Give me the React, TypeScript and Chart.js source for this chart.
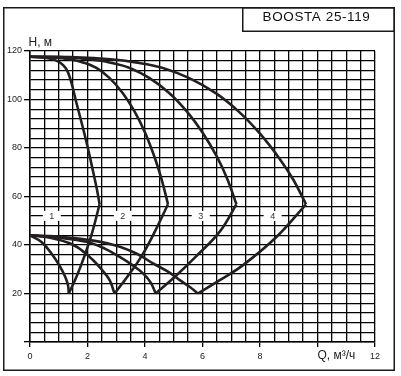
import React, { useEffect, useRef } from 'react';
import { Chart, registerables } from 'chart.js';

Chart.register(...registerables);

// ---- texts ----
const chartTitle = 'BOOSTA 25-119';
const yAxisTitle = 'H, м';
const xAxisTitle = 'Q, м³/ч';

// ---- tick labels ----
const xLabeledTicks = [0, 2, 4, 6, 8, 12];
const xMarkedTicks = [0, 2, 4, 6, 8, 10, 12];
const yLabeledTicks = [20, 40, 60, 80, 100, 120];
const yMarkedTicks = [0, 20, 40, 60, 80, 100, 120];

// ---- curve labels (pump count) ----
const pumpLabels = ['1', '2', '3', '4'];
const pumpLabelQ = [0.76, 3.23, 5.94, 8.44];
const pumpLabelH = [52, 52, 52, 52];

// ---- max-speed H-Q curves ----
const topQ1 = [0, 0.4, 0.8, 1.0, 1.15, 1.3, 1.45, 1.6, 1.8, 2.0, 2.2, 2.33, 2.42];
const topH1 = [117.6, 117.3, 116.5, 115.5, 114.2, 111.8, 106.5, 99.3, 90.2, 80.6, 70, 62.8, 56.8];
const topQ2 = [0, 0.8, 1.4, 1.84, 2.31, 2.77, 3.23, 3.64, 4.0, 4.34, 4.58, 4.8];
const topH2 = [117.6, 117.3, 116.5, 115.3, 113, 108.8, 102.6, 95, 86.4, 76, 67, 56.8];
const topQ3 = [0, 1.2, 2.1, 2.76, 3.47, 4.16, 4.85, 5.46, 6.0, 6.51, 6.87, 7.18];
const topH3 = [117.6, 117.4, 116.5, 115.3, 113, 108.8, 102.6, 95, 86.4, 76.2, 67, 56.8];
const topQ4 = [0, 1.6, 2.8, 3.68, 4.62, 5.54, 6.46, 7.28, 8.0, 8.68, 9.16, 9.6];
const topH4 = [117.6, 117.4, 116.6, 115.3, 113, 108.8, 102.6, 94.8, 85.9, 75.6, 66.9, 56.8];

// ---- min-speed H-Q curves ----
const lowQ1 = [0, 0.4, 0.79, 1.05, 1.22, 1.32, 1.35];
const lowH1 = [44, 41.2, 35.8, 31, 27, 23.5, 20];
const lowQ2 = [0, 0.7, 1.38, 1.8, 2.19, 2.5, 2.77, 2.94];
const lowH2 = [44, 43, 40.7, 37.8, 33.8, 29.8, 25.5, 20];
const lowQ3 = [0, 1.0, 1.96, 2.6, 3.12, 3.55, 3.93, 4.2, 4.37];
const lowH3 = [44, 43, 41.3, 38.5, 35.1, 31.8, 28.3, 24.5, 20];
const lowQ4 = [0, 1.2, 2.2, 3.12, 3.75, 4.28, 4.8, 5.21, 5.55, 5.84];
const lowH4 = [44, 43.2, 41.8, 39.3, 36.2, 32.4, 29, 25.5, 22.8, 20];

// ---- max-flow boundary lines ----
const edgeQ1 = [1.35, 1.62, 1.88, 2.16, 2.42];
const edgeH1 = [20, 27, 35, 45, 56.8];
const edgeQ2 = [2.94, 3.36, 3.86, 4.32, 4.8];
const edgeH2 = [20, 26.5, 35, 45, 56.8];
const edgeQ3 = [4.37, 5.05, 5.75, 6.6, 7.18];
const edgeH3 = [20, 27, 35, 45.5, 56.8];
const edgeQ4 = [5.84, 6.6, 7.41, 8.58, 9.6];
const edgeH4 = [20, 25.5, 31.7, 43.4, 56.8];

const curveSets: Array<[number[], number[]]> = [
  [topQ1, topH1], [topQ2, topH2], [topQ3, topH3], [topQ4, topH4],
  [lowQ1, lowH1], [lowQ2, lowH2], [lowQ3, lowH3], [lowQ4, lowH4],
  [edgeQ1, edgeH1], [edgeQ2, edgeH2], [edgeQ3, edgeH3], [edgeQ4, edgeH4],
];

const INK = '#231f20';
const FONT = '"Liberation Sans", Arial, sans-serif';

const decor = {
  id: 'decor',
  beforeDatasetsDraw(chart: any) {
    const { ctx, scales } = chart;
    const x = scales.x;
    const y = scales.y;
    ctx.save();
    ctx.font = `9px ${FONT}`;
    ctx.textAlign = 'center';
    ctx.textBaseline = 'middle';
    pumpLabels.forEach((t, i) => {
      const px = x.getPixelForValue(pumpLabelQ[i]);
      const py = y.getPixelForValue(pumpLabelH[i]);
      ctx.fillStyle = '#ffffff';
      ctx.fillRect(px - 9, py - 5, 18, 10);
      ctx.fillStyle = '#333333';
      ctx.fillText(t, px, py + 0.5);
    });
    ctx.restore();
  },
  afterDraw(chart: any) {
    const { ctx, scales } = chart;
    const x = scales.x;
    const y = scales.y;
    ctx.save();
    ctx.fillStyle = '#1a1a1a';
    ctx.font = `12px ${FONT}`;
    ctx.textAlign = 'left';
    ctx.textBaseline = 'alphabetic';
    ctx.fillText(yAxisTitle, x.left - 1.5, y.top - 5);
    ctx.fillText(xAxisTitle, x.getPixelForValue(10), y.bottom + 16.5);
    // frames
    ctx.strokeStyle = '#1a1a1a';
    ctx.lineWidth = 1.5;
    ctx.strokeRect(3.75, 7.75, 390.5, 362.5);
    ctx.strokeRect(242.75, 7.75, 151.5, 23.5);
    // title
    ctx.fillStyle = '#111111';
    ctx.font = `13.5px ${FONT}`;
    (ctx as any).letterSpacing = '0.6px';
    ctx.textAlign = 'center';
    ctx.fillText(chartTitle, 316.5, 20.5);
    ctx.restore();
  },
};

export default function App() {
  const ref = useRef<HTMLCanvasElement>(null);
  useEffect(() => {
    const datasets = curveSets.map(([qs, hs]) => ({
      data: qs.map((q, i) => ({ x: q, y: hs[i] })),
      showLine: true,
      borderColor: INK,
      backgroundColor: INK,
      borderWidth: 2.6,
      pointRadius: 0,
      pointHoverRadius: 0,
      tension: 0.4,
      fill: false,
    }));
    const chart = new Chart(ref.current as HTMLCanvasElement, {
      type: 'scatter',
      data: { datasets },
      options: {
        animation: false,
        responsive: false,
        devicePixelRatio: 1,
        events: [],
        layout: { padding: { left: 0, top: 51, right: 26, bottom: 10 } },
        plugins: { legend: { display: false }, tooltip: { enabled: false }, title: { display: false } },
        scales: {
          x: {
            type: 'linear',
            min: 0,
            max: 12,
            afterFit: (s: any) => { s.height = 24; },
            border: { color: '#000', width: 1.5 },
            grid: {
              color: '#000',
              lineWidth: 1.3,
              tickLength: 5,
              tickColor: (c: any) => (xMarkedTicks.includes(c.tick?.value) ? '#000' : 'rgba(0,0,0,0)'),
            },
            ticks: {
              stepSize: 0.5,
              autoSkip: false,
              maxRotation: 0,
              padding: 4,
              color: '#222',
              font: { family: FONT, size: 9 },
              callback: (v: any) => (xLabeledTicks.includes(Number(v)) ? String(v) : ''),
            },
          },
          y: {
            type: 'linear',
            min: 0,
            max: 120,
            afterFit: (s: any) => { s.width = 30; },
            border: { color: '#000', width: 1.5 },
            grid: {
              color: '#000',
              lineWidth: 1.3,
              tickLength: 6,
              tickColor: (c: any) => (yMarkedTicks.includes(c.tick?.value) ? '#000' : 'rgba(0,0,0,0)'),
            },
            ticks: {
              stepSize: 4,
              autoSkip: false,
              padding: 2,
              color: '#222',
              font: { family: FONT, size: 9 },
              callback: (v: any) => (yLabeledTicks.includes(Number(v)) ? String(v) : ''),
            },
          },
        },
      },
      plugins: [decor],
    });
    return () => chart.destroy();
  }, []);
  return (
    <div style={{ position: 'absolute', left: 0, top: 0, width: 401, height: 376, background: '#fff' }}>
      <canvas ref={ref} width={401} height={376} style={{ display: 'block', width: 401, height: 376 }} />
    </div>
  );
}
